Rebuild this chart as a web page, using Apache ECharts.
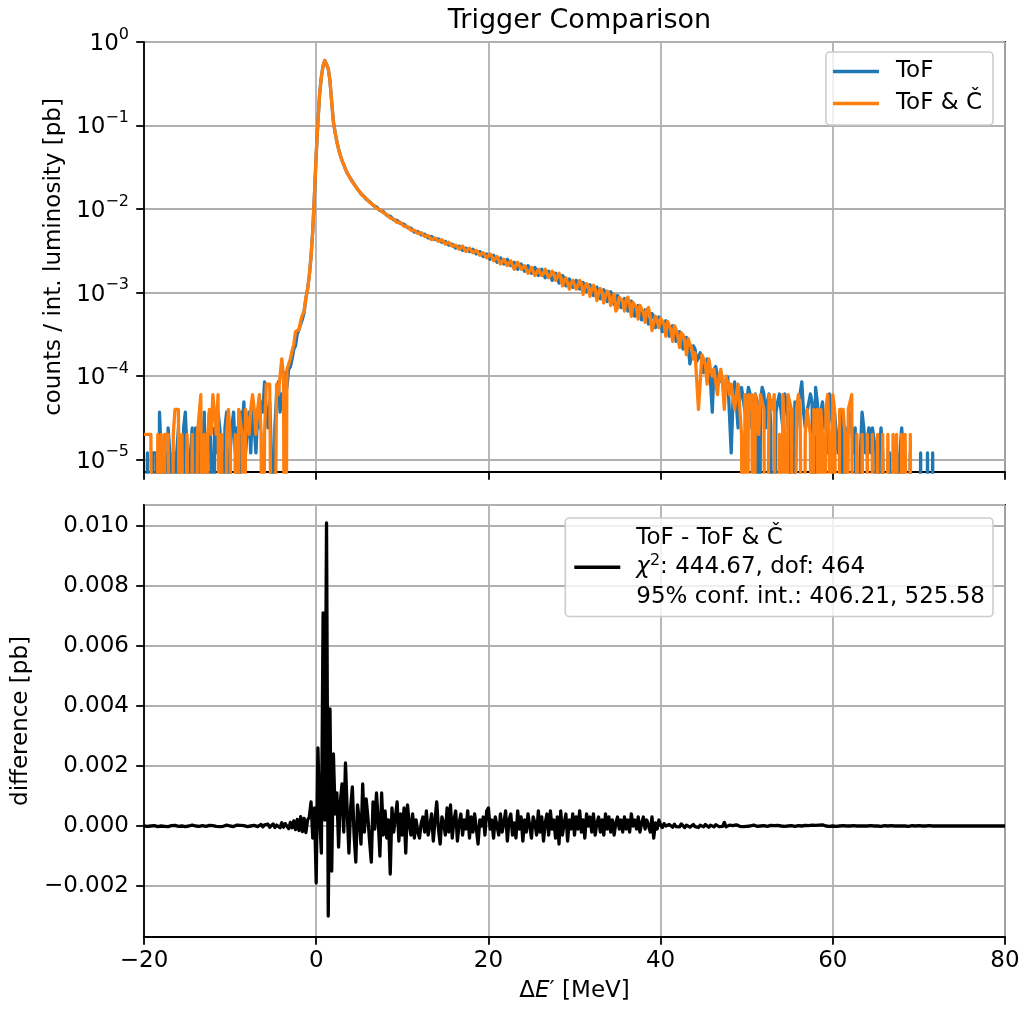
<!DOCTYPE html>
<html>
<head>
<meta charset="utf-8">
<title>Trigger Comparison</title>
<script src="https://cdn.jsdelivr.net/npm/echarts@6/dist/echarts.min.js"></script>
<style>
  html, body { margin: 0; padding: 0; background: #fff; }
  #chart { width: 1026px; height: 1010px; }
</style>
</head>
<body>
<div id="chart"></div>
<script>
  // x axis: Delta E' [MeV]
  var xTicks = [-20, 0, 20, 40, 60, 80];

  // all histograms: 0.2 MeV bins starting at -20 MeV
  var binStart = -20, binStep = 0.2;

  // counts / int. luminosity [pb], ToF trigger
  var tof = [
    0, 0, 1.2e-5, 1.2e-5, 0, 1.2e-5, 1.2e-5, 1.2e-5, 0, 3.7e-5,
    1.2e-5, 0, 1.2e-5, 0, 2.4e-5, 1.2e-5, 0, 1.2e-5, 0, 1.2e-5,
    2.4e-5, 2.4e-5, 0, 2.4e-5, 3.7e-5, 1.2e-5, 0, 1.2e-5, 2.4e-5, 0,
    2.4e-5, 1.2e-5, 0, 2.4e-5, 1.2e-5, 3.7e-5, 0, 1.2e-5, 3.7e-5, 1.2e-5,
    0, 2.4e-5, 1.2e-5, 3.7e-5, 2.4e-5, 1.2e-5, 0, 2.4e-5, 3.7e-5, 0,
    1.2e-5, 2.4e-5, 3.7e-5, 1.2e-5, 2.4e-5, 0, 3.7e-5, 2.4e-5, 4.9e-5, 1.2e-5,
    2.4e-5, 3.7e-5, 1.2e-5, 4.9e-5, 2.4e-5, 1.2e-5, 3.7e-5, 2.4e-5, 4.9e-5, 3.7e-5,
    8.5e-5, 3.7e-5, 2.4e-5, 4.9e-5, 1.2e-5, 0, 2.4e-5, 6.1e-5, 8.5e-5, 3.7e-5,
    6.1e-5, 4.9e-5, 1.1e-4, 7.3e-5, 1.2e-4, 1.3e-4, 1.6e-4, 2.1e-4, 2.3e-4, 3.2e-4,
    3.6e-4, 4.2e-4, 4.8e-4, 5.8e-4, 8.5e-4, 1.1e-3, 1.6e-3, 2.7e-3, 5.5e-3, 1.5e-2,
    0.045, 0.11, 0.24, 0.38, 0.52, 0.6, 0.59, 0.48, 0.34, 0.19,
    0.11, 0.082, 0.064, 0.052, 0.044, 0.038, 0.034, 0.03, 0.027, 0.025,
    0.023, 0.0215, 0.0198, 0.0186, 0.0174, 0.0163, 0.0152, 0.0147, 0.014, 0.0131,
    0.0126, 0.0123, 0.0118, 0.0111, 0.0107, 0.0106, 0.0102, 0.0096, 0.0094, 0.0093,
    0.0089, 0.0084, 0.0081, 0.0082, 0.0079, 0.0074, 0.0072, 0.0073, 0.0071, 0.0067,
    0.0065, 0.0066, 0.0064, 0.006, 0.0058, 0.0059, 0.0057, 0.0053, 0.0052, 0.0054,
    0.0052, 0.0049, 0.0049, 0.005, 0.0048, 0.0045, 0.0045, 0.0047, 0.0046, 0.0043,
    0.0042, 0.0044, 0.0043, 0.004, 0.0039, 0.0041, 0.004, 0.0037, 0.0038, 0.0038,
    0.0037, 0.0034, 0.0035, 0.0036, 0.0036, 0.0032, 0.0033, 0.0034, 0.0034, 0.0031,
    0.0031, 0.0033, 0.0032, 0.0029, 0.0029, 0.0031, 0.003, 0.0027, 0.0028, 0.0029,
    0.0028, 0.0025, 0.0026, 0.0028, 0.0027, 0.0023, 0.0024, 0.0026, 0.0025, 0.0022,
    0.0023, 0.0025, 0.0024, 0.0021, 0.0021, 0.0023, 0.0022, 0.0019, 0.002, 0.0022,
    0.0021, 0.0018, 0.0019, 0.0021, 0.002, 0.0017, 0.0018, 0.002, 0.0019, 0.0016,
    0.0017, 0.0019, 0.0018, 0.0015, 0.0016, 0.0018, 0.0017, 0.0014, 0.0015, 0.0017,
    0.0016, 0.0013, 0.00145, 0.0016, 0.0015, 0.0012, 0.0013, 0.00145, 0.0014, 0.00115,
    0.00128, 0.0014, 0.00134, 0.0011, 0.0012, 0.00132, 0.00126, 0.00102, 0.00112, 0.00124,
    0.00118, 0.00092, 0.00102, 0.00116, 0.0011, 0.00084, 0.00094, 0.00108, 0.00098, 0.00078,
    0.0009, 0.00102, 0.00094, 0.00072, 0.00081, 0.00092, 0.00086, 0.00066, 0.00074, 0.00085,
    0.00078, 0.0006, 0.00069, 0.00079, 0.00074, 0.00052, 0.0006, 0.0007, 0.00064, 0.00047,
    0.00053, 0.00062, 0.00059, 0.00042, 0.00048, 0.00056, 0.00052, 0.00038, 0.00044, 0.00051,
    0.00048, 0.00034, 0.00039, 0.00046, 0.00044, 0.0003, 0.00034, 0.0004, 0.00037, 0.00026,
    0.00029, 0.00034, 0.00031, 0.00021, 0.00025, 0.00029, 0.00024, 0.00014, 0.00018, 0.00023,
    0.00021, 0.00015, 0.00017, 0.00019, 0.00019, 0.00011, 0.00013, 0.00016, 0.00015, 8.5e-5,
    3.7e-5, 0.00012, 0.00013, 9.8e-5, 8.5e-5, 0.00011, 0.00011, 6.1e-5, 7.3e-5, 9.8e-5,
    9.8e-5, 1.2e-5, 4.9e-5, 8.5e-5, 8.5e-5, 2.4e-5, 6.1e-5, 7.3e-5, 7.3e-5, 3.7e-5,
    4.9e-5, 7.3e-5, 6.1e-5, 2.4e-5, 3.7e-5, 6.1e-5, 4.9e-5, 0, 4.9e-5, 7.3e-5,
    6.1e-5, 2.4e-5, 4.9e-5, 6.1e-5, 2.4e-5, 0, 0, 3.7e-5, 4.9e-5, 6.1e-5,
    3.7e-5, 2.4e-5, 6.1e-5, 4.9e-5, 2.4e-5, 3.7e-5, 3.7e-5, 0, 4.9e-5, 2.4e-5,
    4.9e-5, 6.1e-5, 8.5e-5, 3.7e-5, 2.4e-5, 3.7e-5, 3.7e-5, 6.1e-5, 4.9e-5, 0,
    7.3e-5, 4.9e-5, 2.4e-5, 3.7e-5, 4.9e-5, 2.4e-5, 3.7e-5, 1.2e-5, 6.1e-5, 3.7e-5,
    2.4e-5, 3.7e-5, 3.7e-5, 1.2e-5, 2.4e-5, 3.7e-5, 0, 2.4e-5, 1.2e-5, 2.4e-5,
    3.7e-5, 2.4e-5, 1.2e-5, 2.4e-5, 2.4e-5, 0, 1.2e-5, 3.7e-5, 2.4e-5, 1.2e-5,
    1.2e-5, 2.4e-5, 1.2e-5, 2.4e-5, 2.4e-5, 1.2e-5, 0, 1.2e-5, 2.4e-5, 1.2e-5,
    1.2e-5, 0, 0, 1.2e-5, 1.2e-5, 0, 0, 1.2e-5, 0, 1.2e-5,
    2.4e-5, 1.2e-5, 1.2e-5, 0, 0, 1.2e-5, 0, 0, 0, 0,
    0, 1.2e-5, 0, 0, 0, 1.2e-5, 0, 0, 1.2e-5, 0,
    0, 0, 0, 0, 0, 0, 0, 0, 0, 0,
    0, 0, 0, 0, 0, 0, 0, 0, 0, 0,
    0, 0, 0, 0, 0, 0, 0, 0, 0, 0,
    0, 0, 0, 0, 0, 0, 0, 0, 0, 0,
    0
  ];

  // counts / int. luminosity [pb], ToF & Cherenkov trigger
  var tofCer = [
    2e-5, 2e-5, 2e-5, 2e-5, 2e-5, 0, 0, 0, 2e-5, 0,
    2e-5, 0, 2e-5, 2e-5, 2e-5, 2e-5, 0, 2e-5, 4e-5, 4e-5,
    4e-5, 0, 2e-5, 2e-5, 0, 2e-5, 2e-5, 0, 2e-5, 2e-5,
    0, 2e-5, 2e-5, 6e-5, 0, 2e-5, 0, 2e-5, 4e-5, 2e-5,
    6e-5, 6e-5, 2e-5, 6e-5, 0, 2e-5, 2e-5, 0, 2e-5, 4e-5,
    2e-5, 2e-5, 0, 2e-5, 0, 4e-5, 4e-5, 2e-5, 0, 4e-5,
    4e-5, 2e-5, 4e-5, 6e-5, 4e-5, 2e-5, 4e-5, 6e-5, 2e-5, 0,
    2e-5, 8e-5, 8e-5, 8e-5, 8e-5, 0, 0, 8e-5, 6e-5, 1.0e-4,
    1.6e-4, 1.0e-4, 0, 1.2e-4, 1.2e-4, 1.6e-4, 2.0e-4, 2.4e-4, 3.4e-4, 3.4e-4,
    3.6e-4, 4.6e-4, 5.4e-4, 6.0e-4, 8.6e-4, 1.1e-3, 1.6e-3, 2.7e-3, 5.5e-3, 1.5e-2,
    0.045, 0.11, 0.24, 0.38, 0.52, 0.6, 0.59, 0.48, 0.34, 0.19,
    0.11, 0.082, 0.064, 0.052, 0.044, 0.038, 0.034, 0.03, 0.027, 0.025,
    0.0228, 0.0212, 0.0201, 0.0185, 0.0172, 0.0165, 0.0155, 0.0144, 0.0138, 0.0134,
    0.0129, 0.012, 0.0115, 0.0113, 0.0109, 0.0102, 0.0099, 0.0098, 0.0096, 0.009,
    0.0087, 0.0086, 0.0083, 0.0078, 0.0077, 0.0076, 0.0074, 0.0069, 0.0068, 0.0069,
    0.0067, 0.0062, 0.0061, 0.0062, 0.006, 0.0056, 0.0054, 0.0056, 0.0054, 0.0051,
    0.005, 0.0052, 0.0051, 0.0047, 0.0046, 0.0048, 0.0047, 0.0043, 0.0044, 0.0045,
    0.0044, 0.0041, 0.0041, 0.0043, 0.0041, 0.0038, 0.0038, 0.004, 0.0039, 0.0036,
    0.0036, 0.0037, 0.0036, 0.0033, 0.0034, 0.0036, 0.0035, 0.0031, 0.0032, 0.0034,
    0.0033, 0.003, 0.003, 0.0032, 0.0031, 0.0028, 0.0028, 0.003, 0.0029, 0.0026,
    0.0027, 0.0029, 0.0027, 0.0024, 0.0025, 0.0027, 0.0026, 0.0022, 0.0023, 0.0025,
    0.0025, 0.0021, 0.0022, 0.0024, 0.0023, 0.0019, 0.002, 0.0023, 0.0021, 0.0019,
    0.002, 0.0021, 0.002, 0.0017, 0.0018, 0.002, 0.0019, 0.0016, 0.0017, 0.0019,
    0.0018, 0.0016, 0.0017, 0.0019, 0.0018, 0.0015, 0.0016, 0.0018, 0.0017, 0.0014,
    0.00152, 0.0017, 0.00155, 0.0012, 0.0014, 0.0015, 0.00142, 0.0011, 0.0013, 0.0014,
    0.00135, 0.0011, 0.00122, 0.0014, 0.00128, 0.00095, 0.00115, 0.00128, 0.0012, 0.0009,
    0.0011, 0.00122, 0.0011, 0.0008, 0.001, 0.00112, 0.00102, 0.00075, 0.00092, 0.00104,
    0.00096, 0.0007, 0.00085, 0.00096, 0.0006, 0.00065, 0.00088, 0.00092, 0.00078, 0.0006,
    0.00082, 0.00088, 0.00072, 0.00052, 0.00076, 0.0008, 0.00066, 0.00048, 0.0007, 0.00072,
    0.00058, 0.00044, 0.00062, 0.00066, 0.0005, 0.00035, 0.00035, 0.00052, 0.00046, 0.00038,
    0.00049, 0.00047, 0.00042, 0.0003, 0.00045, 0.00044, 0.00036, 0.00026, 0.0004, 0.00036,
    0.0003, 0.00022, 0.00033, 0.00031, 0.00026, 0.00018, 0.00028, 0.00024, 0.00022, 0.00016,
    0.00019, 0.0002, 4e-5, 4e-5, 0.00018, 0.00016, 0.00014, 8e-5, 0.00016, 0.00012,
    0.0001, 0.00012, 0.00012, 6e-5, 0.0001, 0.00012, 8e-5, 4e-5, 0.0001, 8e-5,
    6e-5, 8e-5, 8e-5, 4e-5, 6e-5, 8e-5, 8e-5, 2e-5, 0, 6e-5,
    0, 6e-5, 4e-5, 6e-5, 0, 6e-5, 4e-5, 2e-5, 6e-5, 6e-5,
    4e-5, 0, 0, 6e-5, 6e-5, 4e-5, 6e-5, 0, 0, 2e-5,
    0, 6e-5, 2e-5, 0, 6e-5, 6e-5, 4e-5, 0, 0, 4e-5,
    6e-5, 4e-5, 4e-5, 0, 2e-5, 4e-5, 4e-5, 2e-5, 0, 4e-5,
    2e-5, 4e-5, 0, 4e-5, 2e-5, 0, 4e-5, 6e-5, 2e-5, 0,
    6e-5, 4e-5, 4e-5, 0, 4e-5, 4e-5, 4e-5, 2e-5, 0, 4e-5,
    4e-5, 6e-5, 0, 0, 2e-5, 2e-5, 0, 2e-5, 2e-5, 0,
    2e-5, 2e-5, 0, 2e-5, 2e-5, 0, 2e-5, 0, 0, 2e-5,
    0, 0, 2e-5, 2e-5, 0, 2e-5, 0, 2e-5, 2e-5, 0,
    2e-5, 0, 2e-5, 2e-5, 0, 2e-5, 0, 0, 0, 0,
    0, 0, 0, 0, 0, 0, 0, 0, 0, 0,
    0, 0, 0, 0, 0, 0, 0, 0, 0, 0,
    0, 0, 0, 0, 0, 0, 0, 0, 0, 0,
    0, 0, 0, 0, 0, 0, 0, 0, 0, 0,
    0, 0, 0, 0, 0, 0, 0, 0, 0, 0,
    0
  ];

  // difference ToF - ToF & C [pb]
  var diff = [
    0, 1e-5, -1e-5, 2e-5, 0, -1e-5, 1e-5, 0, -2e-5, 1e-5,
    0, 2e-5, -1e-5, 1e-5, -2e-5, 0, 1e-5, -1e-5, 2e-5, 0,
    -1e-5, 1e-5, 0, 2e-5, -2e-5, 1e-5, 0, -1e-5, 3e-5, -1e-5,
    0, 2e-5, -1e-5, -2e-5, 1e-5, 3e-5, -1e-5, 0, 2e-5, -2e-5,
    1e-5, 4e-5, -1e-5, 0, -2e-5, 2e-5, -1e-5, 1e-5, 3e-5, -1e-5,
    0, 2e-5, -2e-5, 1e-5, 3e-5, -1e-5, 2e-5, -3e-5, 1e-5, 2e-5,
    -2e-5, 3e-5, 0, -3e-5, 2e-5, 4e-5, -2e-5, 1e-5, 5e-5, -3e-5,
    4e-5, -2e-5, 6e-5, -4e-5, 2e-5, 7e-5, -5e-5, 3e-5, 9e-5, -6e-5,
    1.1e-4, -4e-5, 8e-5, 1.4e-4, -9e-5, 1.2e-4, -6e-5, 1.7e-4, -1.2e-4, 2.2e-4,
    -1.5e-4, 3.1e-4, -1.9e-4, 2.5e-4, -2.2e-4, 2.0e-4, 3.0e-4, 8.0e-4, -4.0e-4, 6.0e-4,
    -1.9e-3, 2.6e-3, 3e-4, -9e-4, 7.1e-3, 2e-4, 1.01e-2, -3.0e-3, 3.9e-3, -1.5e-3,
    2.4e-3, 4e-4, 1.1e-3, -7e-4, 8e-4, 1.4e-3, -2e-4, 2.1e-3, 5e-4, -9e-4,
    6e-4, 1.3e-3, -3e-4, -1.2e-3, 7e-4, 2e-4, -6e-4, 1.4e-3, -2e-4, 9e-4,
    3e-4, -5e-4, -1.2e-3, 8e-4, -1e-4, 1.1e-3, 2e-4, -1.0e-3, 1.1e-3, -3e-4,
    5e-4, -4e-4, 2e-4, -1.6e-3, 6e-4, -2e-4, 3e-4, 8e-4, -5e-4, 4e-4,
    -3e-4, 6e-4, -9e-4, 7e-4, 1e-4, -3e-4, 4e-4, -4e-4, 2e-4, -2e-4,
    -4e-4, 1e-4, 3e-4, -2e-4, 5e-4, -3e-4, 0, 4e-4, -5e-4, 2e-4,
    8e-4, -1e-4, -6e-4, 3e-4, 1e-4, -3e-4, 6e-4, -2e-4, 7e-4, -4e-4,
    2e-4, 5e-4, -5e-4, 1e-4, 4e-4, -3e-4, 2e-4, -1e-4, 5e-4, -4e-4,
    3e-4, -2e-4, 4e-4, -1e-4, -6e-4, 2e-4, 0, 3e-4, -3e-4, 5e-4,
    6e-4, -1e-4, 2e-4, -4e-4, 3e-4, 0, -3e-4, 4e-4, -2e-4, 1e-4,
    5e-4, -5e-4, 2e-4, 4e-4, -3e-4, 1e-4, -4e-4, 5e-4, -1e-4, 3e-4,
    -5e-4, 2e-4, -2e-4, 4e-4, 0, -4e-4, 3e-4, 1e-4, -3e-4, 5e-4,
    -2e-4, 3e-4, -5e-4, 1e-4, 4e-4, -3e-4, 5e-4, -1e-4, 2e-4, -4e-4,
    3e-4, -6e-4, 5e-4, -3e-4, 1e-4, 4e-4, -5e-4, 2e-4, -1e-4, 4e-4,
    -3e-4, 3e-4, -1e-4, 5e-4, -2e-4, 2e-4, -4e-4, 4e-4, 0, 3e-4,
    -2e-4, 4e-4, -3e-4, 1e-4, 3e-4, -2e-4, 2e-4, -3e-4, 4e-4, -1e-4,
    3e-4, -2e-4, 2e-4, -3e-4, 1e-4, 3e-4, -1e-4, 2e-4, -2e-4, 3e-4,
    -1e-4, 2e-4, -2e-4, 4e-4, 0, 2e-4, -1e-4, 3e-4, -2e-4, 1e-4,
    3e-4, -1e-4, 2e-4, 0, -2e-4, 3e-4, -4e-4, 1e-4, -1e-4, 2e-4,
    3e-5, -5e-5, 8e-5, 0, -6e-5, 5e-5, 2e-5, -4e-5, 6e-5, -2e-5,
    4e-5, -3e-5, 7e-5, 1e-5, -5e-5, 3e-5, 6e-5, -4e-5, 2e-5, 5e-5,
    -2e-5, 4e-5, -5e-5, 3e-5, 1e-5, -3e-5, 5e-5, 0, -4e-5, 3e-5,
    2e-5, -3e-5, 4e-5, 0, -2e-5, 3e-5, -1e-5, 1.2e-4, -3e-5, 1e-5,
    3e-5, -2e-5, 1e-5, -3e-5, 4e-5, 0, -1e-5, 2e-5, -2e-5, 3e-5,
    -1e-5, 2e-5, 0, -2e-5, 3e-5, 1e-5, -1e-5, 2e-5, 0, -2e-5,
    1e-5, 2e-5, -1e-5, 0, 2e-5, -2e-5, 1e-5, 0, 2e-5, -1e-5,
    0, 1e-5, -1e-5, 2e-5, 0, -1e-5, 1e-5, 2e-5, -1e-5, 0,
    1e-5, 3e-5, 0, -2e-5, 2e-5, 4e-5, 1e-5, -1e-5, 3e-5, 5e-5,
    2e-5, 6e-5, 3e-5, -1e-5, 4e-5, 2e-5, 0, 3e-5, -1e-5, 1e-5,
    0, 1e-5, -1e-5, 1e-5, 0, 0, 1e-5, -1e-5, 0, 1e-5,
    0, -1e-5, 1e-5, 0, 0, 1e-5, 0, -1e-5, 0, 1e-5,
    0, 0, 1e-5, -1e-5, 0, 1e-5, 0, 0, -1e-5, 0,
    1e-5, 0, 0, -1e-5, 1e-5, 0, 0, 1e-5, 0, -1e-5,
    0, 1e-5, 0, 0, -1e-5, 0, 1e-5, 0, 0, 0,
    1e-5, 0, 0, -1e-5, 0, 0, 1e-5, 0, 0, 0,
    0, 0, 0, 0, 0, 0, 0, 0, 0, 0,
    0, 0, 0, 0, 0, 0, 0, 0, 0, 0,
    0, 0, 0, 0, 0, 0, 0, 0, 0, 0,
    0, 0, 0, 0, 0, 0, 0, 0, 0, 0,
    0
  ];

  var legendDiff = ['ToF - ToF & Č', '{i|χ}{sup|2}: 444.67, dof: 464', '95% conf. int.: 406.21, 525.58'];

  var font = 'DejaVu Sans';
  var ink = '#000';
  var gridGray = '#b0b0b0';
  var fs = 23;

  // pair bin centres with values; non-positive values fall off a log axis like matplotlib does
  function bins(values, logFloor) {
    return values.map(function (v, i) {
      var x = Math.round((binStart + i * binStep) * 10) / 10;
      return [x, (logFloor && v <= 0) ? logFloor : v];
    });
  }

  function minus(s) { return String(s).replace('-', '\u2212'); }

  function powLabel(v) {
    var e = Math.log(v) / Math.LN10;
    var r = Math.round(e);
    if (Math.abs(e - r) > 1e-6) return '';
    return '{b|10}{s|' + minus(r) + '}';
  }

  var axisLine = {onZero: false, lineStyle: {color: ink, width: 1.8}};
  var axisTick = {length: 7.8, lineStyle: {color: ink, width: 1.8}};
  var splitLine = {lineStyle: {color: gridGray, width: 1.8}};

  var chart = echarts.init(document.getElementById('chart'));
  var option = {
    animation: false,
    backgroundColor: '#fff',
    textStyle: {fontFamily: font, color: ink},
    title: {
      text: 'Trigger Comparison',
      left: 574.5, top: 2, textAlign: 'center',
      textStyle: {fontFamily: font, fontSize: 27, fontWeight: 'normal', color: ink}
    },
    grid: [
      {left: 144, right: 21, top: 42, height: 430, show: true, borderColor: ink, borderWidth: 1.8, outerBoundsMode: 'none'},
      {left: 144, right: 21, top: 505, height: 432, show: true, borderColor: ink, borderWidth: 1.8, outerBoundsMode: 'none'}
    ],
    legend: [
      {
        data: ['ToF', 'ToF & Č'],
        orient: 'vertical', right: 33, top: 52,
        icon: 'rect', itemWidth: 46, itemHeight: 3.3, itemGap: 9,
        padding: [8, 11, 10, 7],
        backgroundColor: 'rgba(255,255,255,0.8)', borderColor: '#cccccc', borderWidth: 1.6, borderRadius: 4,
        selectedMode: false,
        textStyle: {fontFamily: font, fontSize: fs, color: ink, lineHeight: 23, padding: [0, 0, 0, 12]}
      },
      {
        data: ['ToF - ToF & Č'],
        orient: 'vertical', right: 33, top: 518,
        icon: 'rect', itemWidth: 46, itemHeight: 3.3,
        padding: [5, 8, 5, 9],
        backgroundColor: 'rgba(255,255,255,0.8)', borderColor: '#cccccc', borderWidth: 1.6, borderRadius: 4,
        selectedMode: false,
        formatter: function () { return legendDiff.join('\n'); },
        textStyle: {
          fontFamily: font, fontSize: fs, color: ink, lineHeight: 29.5, padding: [0, 0, 0, 11],
          rich: {
            i: {fontFamily: font, fontSize: fs, fontStyle: 'italic', color: ink, lineHeight: 29.5},
            sup: {fontFamily: font, fontSize: 16, color: ink, lineHeight: 16, padding: [0, 0, 13, 0], verticalAlign: 'top'}
          }
        }
      }
    ],
    xAxis: [
      {
        gridIndex: 0, type: 'value', min: xTicks[0], max: xTicks[xTicks.length - 1], interval: 20,
        axisLine: axisLine, axisTick: axisTick, splitLine: splitLine,
        axisLabel: {show: false}
      },
      {
        gridIndex: 1, type: 'value', min: xTicks[0], max: xTicks[xTicks.length - 1], interval: 20,
        axisLine: axisLine, axisTick: axisTick, splitLine: splitLine,
        axisLabel: {fontFamily: font, fontSize: fs, color: ink, margin: 13, formatter: minus},
        name: '{n|Δ}{i|E}{n|′ [MeV]}', nameLocation: 'middle', nameGap: 43,
        nameTextStyle: {
          rich: {
            n: {fontFamily: font, fontSize: fs, color: ink},
            i: {fontFamily: font, fontSize: fs, color: ink, fontStyle: 'italic'}
          }
        }
      }
    ],
    yAxis: [
      {
        gridIndex: 0, type: 'log', logBase: 10, min: 7.1e-6, max: 1,
        axisLine: axisLine, axisTick: axisTick, splitLine: splitLine,
        axisLabel: {
          showMinLabel: false, margin: 15, formatter: powLabel,
          rich: {
            b: {fontFamily: font, fontSize: fs, color: ink, lineHeight: 27, verticalAlign: 'bottom'},
            s: {fontFamily: font, fontSize: 16, color: ink, lineHeight: 16, padding: [0, 0, 13, 0], verticalAlign: 'bottom'}
          }
        },
        name: 'counts / int. luminosity [pb]', nameLocation: 'middle', nameGap: 78, nameRotate: 90,
        nameTextStyle: {fontFamily: font, fontSize: fs, color: ink}
      },
      {
        gridIndex: 1, type: 'value', min: -0.0037, max: 0.0107, splitNumber: 7,
        axisLine: axisLine, axisTick: axisTick, splitLine: splitLine,
        axisLabel: {
          showMinLabel: false, showMaxLabel: false, margin: 15,
          fontFamily: font, fontSize: fs, color: ink,
          formatter: function (v) { return (v < 0 ? '\u2212' : '') + Math.abs(v).toFixed(3); }
        },
        name: 'difference [pb]', nameLocation: 'middle', nameGap: 109, nameRotate: 90,
        nameTextStyle: {fontFamily: font, fontSize: fs, color: ink}
      }
    ],
    series: [
      {
        name: 'ToF', type: 'line', xAxisIndex: 0, yAxisIndex: 0,
        data: bins(tof, 1e-9),
        symbol: 'none', silent: true, z: 3,
        itemStyle: {color: '#1f77b4'},
        lineStyle: {color: '#1f77b4', width: 3.3, join: 'round'}
      },
      {
        name: 'ToF & Č', type: 'line', xAxisIndex: 0, yAxisIndex: 0,
        data: bins(tofCer, 1e-9),
        symbol: 'none', silent: true, z: 4,
        itemStyle: {color: '#ff7f0e'},
        lineStyle: {color: '#ff7f0e', width: 3.3, join: 'round'}
      },
      {
        name: 'ToF - ToF & Č', type: 'line', xAxisIndex: 1, yAxisIndex: 1,
        data: bins(diff),
        symbol: 'none', silent: true, z: 3,
        itemStyle: {color: ink},
        lineStyle: {color: ink, width: 3.3, join: 'round'}
      }
    ]
  };
  chart.setOption(option);
</script>
</body>
</html>
